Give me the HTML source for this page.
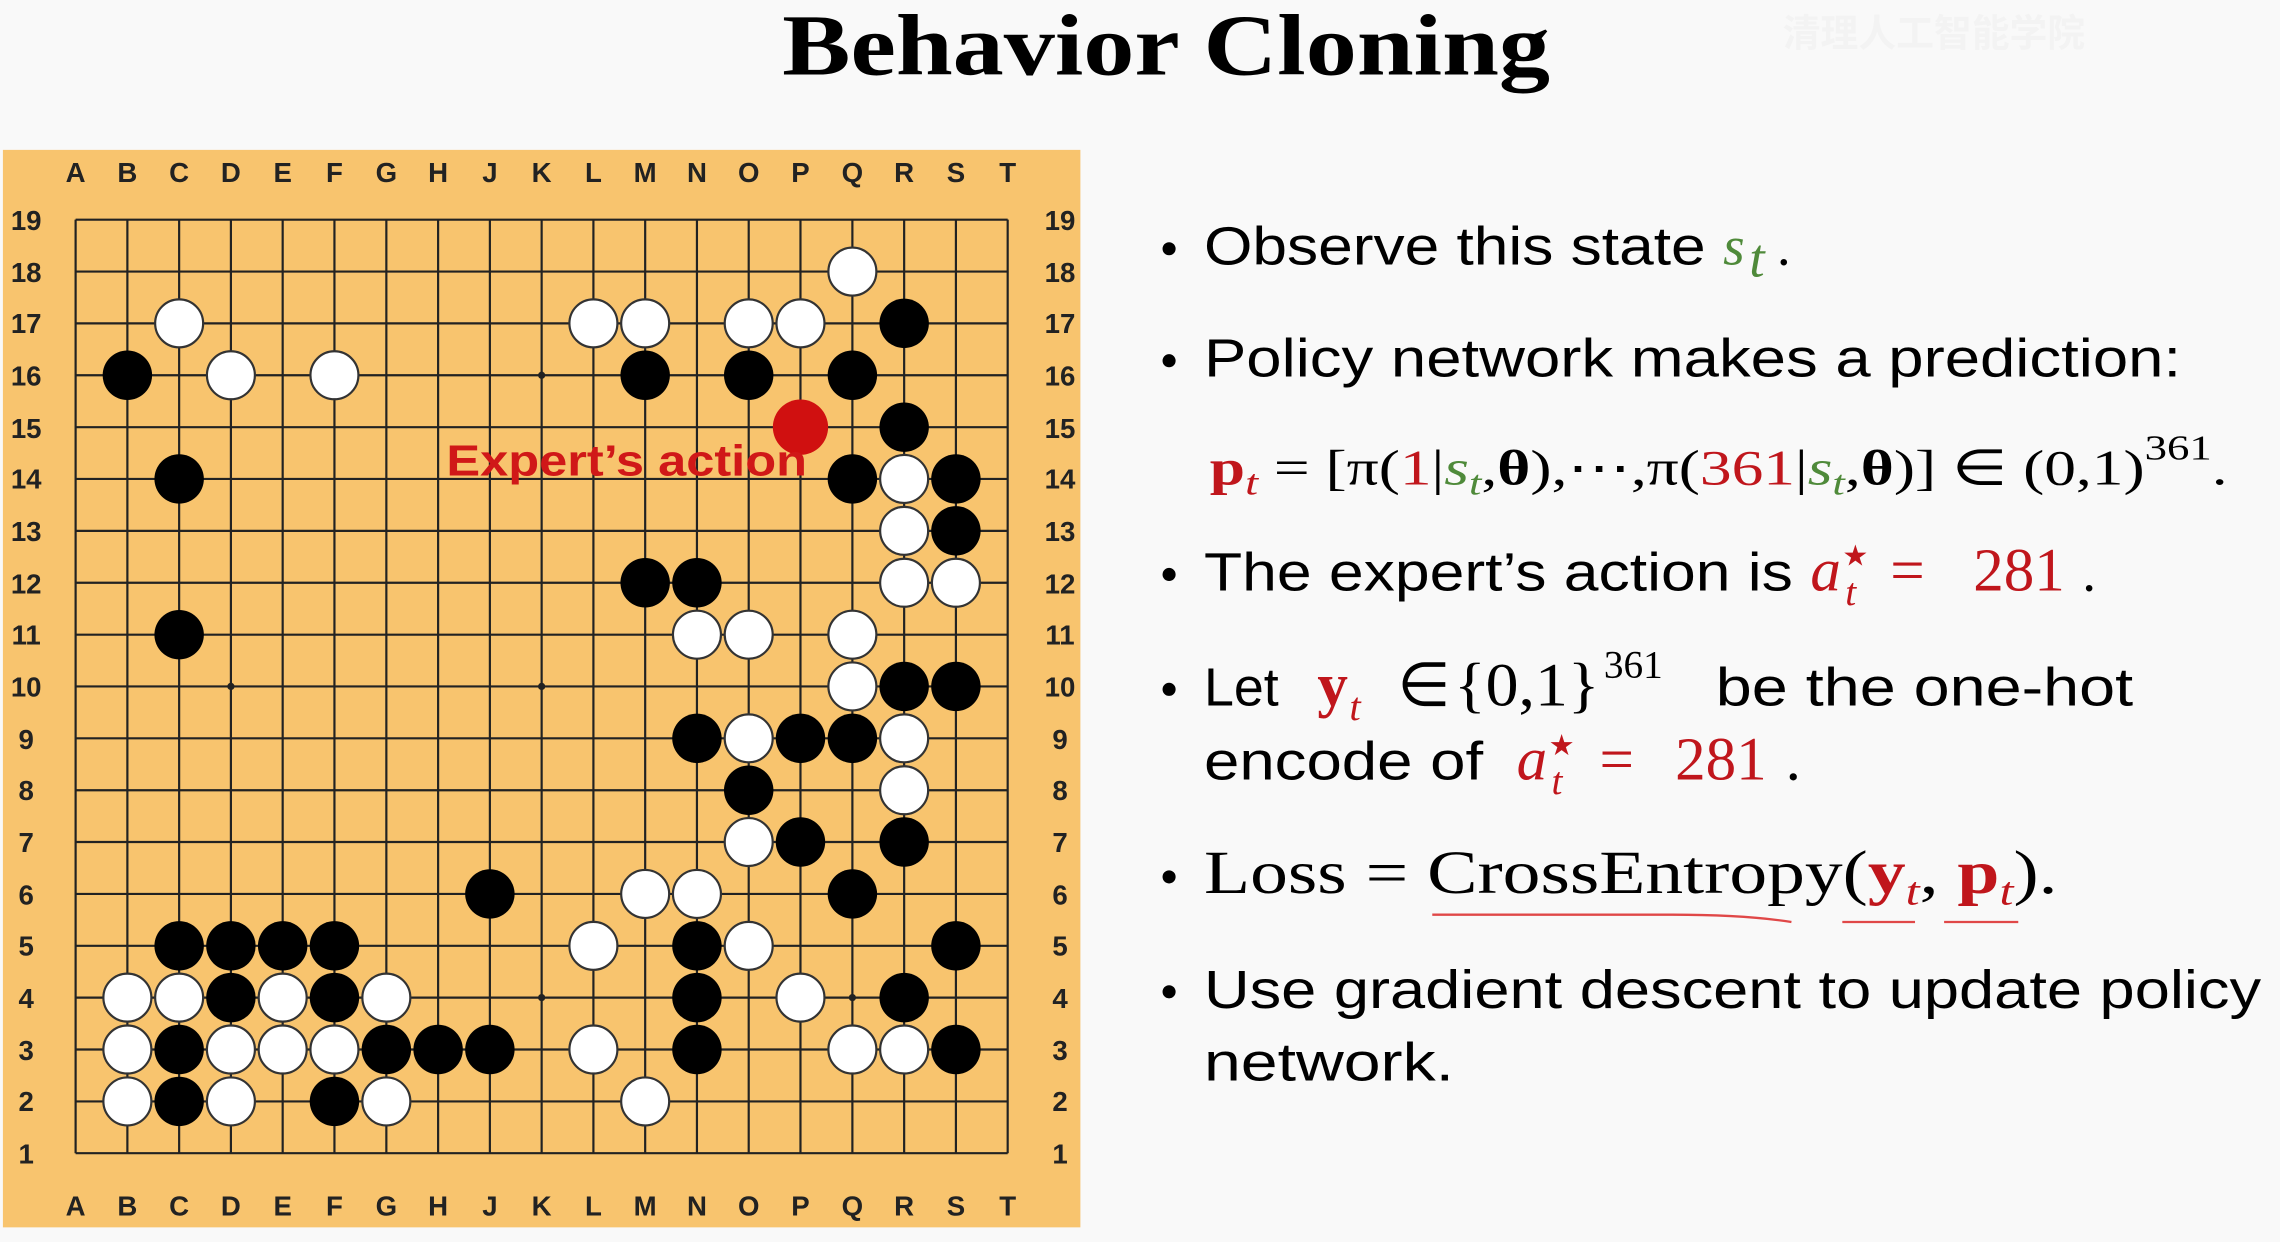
<!DOCTYPE html>
<html><head><meta charset="utf-8"><style>
html,body{margin:0;padding:0;background:#f9f9f9;width:2280px;height:1242px;overflow:hidden}
svg{display:block}
.lab{font-family:"Liberation Sans",sans-serif;font-weight:bold;font-size:19px;fill:#222;text-anchor:middle}
.t{font-family:"Liberation Sans",sans-serif;font-size:37px;fill:#000}
.m{font-family:"Liberation Serif",serif;font-size:38px;fill:#000}
.r{fill:#c0161c}.g{fill:#4f8a3a}
</style></head><body>
<svg width="2280" height="1242" viewBox="0 0 1568 854" xmlns="http://www.w3.org/2000/svg">
<rect width="1568" height="854" fill="#f9f9f9"/>
<text x="802" y="51" text-anchor="middle" font-family="Liberation Serif,serif" font-weight="bold" font-size="60" fill="#000" textLength="528" lengthAdjust="spacingAndGlyphs">Behavior Cloning</text>
<text x="1330" y="32" text-anchor="middle" font-family="Liberation Sans,Noto Sans CJK SC,sans-serif" font-weight="bold" font-size="26" fill="#f3f3f3">清理人工智能学院</text>
<rect x="2" y="103" width="741" height="741" fill="#f8c46e"/>
<g stroke="#222" stroke-width="1.5" fill="none">
<path d="M52 151V793M87.6 151V793M123.2 151V793M158.8 151V793M194.4 151V793M230 151V793M265.7 151V793M301.3 151V793M336.9 151V793M372.5 151V793M408.1 151V793M443.7 151V793M479.3 151V793M514.9 151V793M550.5 151V793M586.2 151V793M621.8 151V793M657.4 151V793M693 151V793"/>
<path d="M52 151H693M52 186.7H693M52 222.3H693M52 258H693M52 293.7H693M52 329.3H693M52 365H693M52 400.7H693M52 436.4H693M52 472H693M52 507.7H693M52 543.4H693M52 579H693M52 614.7H693M52 650.4H693M52 686H693M52 721.7H693M52 757.4H693M52 793H693"/>
</g>
<g fill="#222"><circle cx="372.5" cy="258" r="2.5"/><circle cx="158.8" cy="472" r="2.5"/><circle cx="372.5" cy="472" r="2.5"/><circle cx="372.5" cy="686" r="2.5"/><circle cx="586.2" cy="686" r="2.5"/><circle cx="158.8" cy="258" r="2.5"/><circle cx="586.2" cy="258" r="2.5"/><circle cx="158.8" cy="686" r="2.5"/><circle cx="586.2" cy="472" r="2.5"/></g>
<g class="lab">
<text x="52" y="125">A</text><text x="87.6" y="125">B</text><text x="123.2" y="125">C</text><text x="158.8" y="125">D</text><text x="194.4" y="125">E</text><text x="230" y="125">F</text><text x="265.7" y="125">G</text><text x="301.3" y="125">H</text><text x="336.9" y="125">J</text><text x="372.5" y="125">K</text><text x="408.1" y="125">L</text><text x="443.7" y="125">M</text><text x="479.3" y="125">N</text><text x="514.9" y="125">O</text><text x="550.5" y="125">P</text><text x="586.2" y="125">Q</text><text x="621.8" y="125">R</text><text x="657.4" y="125">S</text><text x="693" y="125">T</text>
<text x="52" y="836">A</text><text x="87.6" y="836">B</text><text x="123.2" y="836">C</text><text x="158.8" y="836">D</text><text x="194.4" y="836">E</text><text x="230" y="836">F</text><text x="265.7" y="836">G</text><text x="301.3" y="836">H</text><text x="336.9" y="836">J</text><text x="372.5" y="836">K</text><text x="408.1" y="836">L</text><text x="443.7" y="836">M</text><text x="479.3" y="836">N</text><text x="514.9" y="836">O</text><text x="550.5" y="836">P</text><text x="586.2" y="836">Q</text><text x="621.8" y="836">R</text><text x="657.4" y="836">S</text><text x="693" y="836">T</text>
</g>
<g class="lab">
<text x="18" y="158">19</text><text x="18" y="194">18</text><text x="18" y="229">17</text><text x="18" y="265">16</text><text x="18" y="301">15</text><text x="18" y="336">14</text><text x="18" y="372">13</text><text x="18" y="408">12</text><text x="18" y="443">11</text><text x="18" y="479">10</text><text x="18" y="515">9</text><text x="18" y="550">8</text><text x="18" y="586">7</text><text x="18" y="622">6</text><text x="18" y="657">5</text><text x="18" y="693">4</text><text x="18" y="729">3</text><text x="18" y="764">2</text><text x="18" y="800">1</text>
<text x="729" y="158">19</text><text x="729" y="194">18</text><text x="729" y="229">17</text><text x="729" y="265">16</text><text x="729" y="301">15</text><text x="729" y="336">14</text><text x="729" y="372">13</text><text x="729" y="408">12</text><text x="729" y="443">11</text><text x="729" y="479">10</text><text x="729" y="515">9</text><text x="729" y="550">8</text><text x="729" y="586">7</text><text x="729" y="622">6</text><text x="729" y="657">5</text><text x="729" y="693">4</text><text x="729" y="729">3</text><text x="729" y="764">2</text><text x="729" y="800">1</text>
</g>
<g fill="#000">
<circle cx="621.8" cy="222.3" r="17"/>
<circle cx="87.6" cy="258" r="17"/><circle cx="443.7" cy="258" r="17"/><circle cx="514.9" cy="258" r="17"/><circle cx="586.2" cy="258" r="17"/>
<circle cx="621.8" cy="293.7" r="17"/>
<circle cx="123.2" cy="329.3" r="17"/><circle cx="586.2" cy="329.3" r="17"/><circle cx="657.4" cy="329.3" r="17"/>
<circle cx="657.4" cy="365" r="17"/>
<circle cx="443.7" cy="400.7" r="17"/><circle cx="479.3" cy="400.7" r="17"/>
<circle cx="123.2" cy="436.4" r="17"/>
<circle cx="621.8" cy="472" r="17"/><circle cx="657.4" cy="472" r="17"/>
<circle cx="479.3" cy="507.7" r="17"/><circle cx="550.5" cy="507.7" r="17"/><circle cx="586.2" cy="507.7" r="17"/>
<circle cx="514.9" cy="543.4" r="17"/>
<circle cx="550.5" cy="579" r="17"/><circle cx="621.8" cy="579" r="17"/>
<circle cx="336.9" cy="614.7" r="17"/><circle cx="586.2" cy="614.7" r="17"/>
<circle cx="123.2" cy="650.4" r="17"/><circle cx="158.8" cy="650.4" r="17"/><circle cx="194.4" cy="650.4" r="17"/><circle cx="230" cy="650.4" r="17"/><circle cx="479.3" cy="650.4" r="17"/><circle cx="657.4" cy="650.4" r="17"/>
<circle cx="158.8" cy="686" r="17"/><circle cx="230" cy="686" r="17"/><circle cx="479.3" cy="686" r="17"/><circle cx="621.8" cy="686" r="17"/>
<circle cx="123.2" cy="721.7" r="17"/><circle cx="265.7" cy="721.7" r="17"/><circle cx="301.3" cy="721.7" r="17"/><circle cx="336.9" cy="721.7" r="17"/><circle cx="479.3" cy="721.7" r="17"/><circle cx="657.4" cy="721.7" r="17"/>
<circle cx="123.2" cy="757.4" r="17"/><circle cx="230" cy="757.4" r="17"/>
</g>
<g fill="#fff" stroke="#333" stroke-width="1.5">
<circle cx="586.2" cy="186.7" r="16.5"/>
<circle cx="123.2" cy="222.3" r="16.5"/><circle cx="408.1" cy="222.3" r="16.5"/><circle cx="443.7" cy="222.3" r="16.5"/><circle cx="514.9" cy="222.3" r="16.5"/><circle cx="550.5" cy="222.3" r="16.5"/>
<circle cx="158.8" cy="258" r="16.5"/><circle cx="230" cy="258" r="16.5"/>
<circle cx="621.8" cy="329.3" r="16.5"/>
<circle cx="621.8" cy="365" r="16.5"/>
<circle cx="621.8" cy="400.7" r="16.5"/><circle cx="657.4" cy="400.7" r="16.5"/>
<circle cx="479.3" cy="436.4" r="16.5"/><circle cx="514.9" cy="436.4" r="16.5"/><circle cx="586.2" cy="436.4" r="16.5"/>
<circle cx="586.2" cy="472" r="16.5"/>
<circle cx="514.9" cy="507.7" r="16.5"/><circle cx="621.8" cy="507.7" r="16.5"/>
<circle cx="621.8" cy="543.4" r="16.5"/>
<circle cx="514.9" cy="579" r="16.5"/>
<circle cx="443.7" cy="614.7" r="16.5"/><circle cx="479.3" cy="614.7" r="16.5"/>
<circle cx="408.1" cy="650.4" r="16.5"/><circle cx="514.9" cy="650.4" r="16.5"/>
<circle cx="87.6" cy="686" r="16.5"/><circle cx="123.2" cy="686" r="16.5"/><circle cx="194.4" cy="686" r="16.5"/><circle cx="265.7" cy="686" r="16.5"/><circle cx="550.5" cy="686" r="16.5"/>
<circle cx="87.6" cy="721.7" r="16.5"/><circle cx="158.8" cy="721.7" r="16.5"/><circle cx="194.4" cy="721.7" r="16.5"/><circle cx="230" cy="721.7" r="16.5"/><circle cx="408.1" cy="721.7" r="16.5"/><circle cx="586.2" cy="721.7" r="16.5"/><circle cx="621.8" cy="721.7" r="16.5"/>
<circle cx="87.6" cy="757.4" r="16.5"/><circle cx="158.8" cy="757.4" r="16.5"/><circle cx="265.7" cy="757.4" r="16.5"/><circle cx="443.7" cy="757.4" r="16.5"/>
</g>
<circle cx="550.5" cy="293.7" r="19" fill="#d01010"/>
<text x="307" y="327" font-family="Liberation Sans,sans-serif" font-weight="bold" font-size="30" fill="#d01818" textLength="248" lengthAdjust="spacingAndGlyphs">Expert’s action</text>

<g fill="#000">
<circle cx="804" cy="171" r="4.5"/><circle cx="804" cy="248" r="4.5"/><circle cx="804" cy="395" r="4.5"/><circle cx="804" cy="474" r="4.5"/><circle cx="804" cy="603" r="4.5"/><circle cx="804" cy="682" r="4.5"/>
</g>
<text class="t" x="828" y="182" textLength="345" lengthAdjust="spacingAndGlyphs">Observe this state</text>
<text class="m g" x="1185" y="182" font-style="italic">s</text><text class="m g" x="1203" y="190" font-style="italic" font-size="28">t</text><text class="m" x="1222" y="182">.</text>
<text class="t" x="828" y="259" textLength="672" lengthAdjust="spacingAndGlyphs">Policy network makes a prediction:</text>
<text x="832" y="333" font-family="Liberation Serif,serif" font-size="34" textLength="700" lengthAdjust="spacingAndGlyphs"><tspan font-weight="bold" class="r">p</tspan><tspan font-style="italic" font-size="25" class="r" dy="7">t</tspan><tspan dy="-7"> = [π(</tspan><tspan class="r">1</tspan><tspan>|</tspan><tspan font-style="italic" class="g">s</tspan><tspan font-style="italic" font-size="24" class="g" dy="7">t</tspan><tspan dy="-7">,</tspan><tspan font-weight="bold">θ</tspan><tspan>),⋯,π(</tspan><tspan class="r">361</tspan><tspan>|</tspan><tspan font-style="italic" class="g">s</tspan><tspan font-style="italic" font-size="24" class="g" dy="7">t</tspan><tspan dy="-7">,</tspan><tspan font-weight="bold">θ</tspan><tspan>)] ∈ (0,1)</tspan><tspan font-size="24" dy="-17">361</tspan><tspan dy="17">.</tspan></text>
<text class="t" x="828" y="406" textLength="405" lengthAdjust="spacingAndGlyphs">The expert’s action is</text>
<g font-family="Liberation Serif,serif" font-size="42" class="r">
<text x="1245" y="406" font-style="italic">a</text><text x="1267" y="389" font-size="20">★</text><text x="1269" y="416" font-style="italic" font-size="27">t</text>
<text x="1300" y="406">=</text><text x="1357" y="406">281</text>
</g><text class="m" x="1432" y="406" font-size="40">.</text>
<text class="t" x="828" y="485">Let</text>
<g font-family="Liberation Serif,serif" font-size="42">
<text x="906" y="485" font-weight="bold" class="r">y</text><text x="928" y="495" font-style="italic" font-size="28" class="r">t</text>
<text x="961" y="485">∈</text><text x="1000" y="485" textLength="100" lengthAdjust="spacingAndGlyphs">{0,1}</text><text x="1103" y="466" font-size="27">361</text>
<text x="1043" y="536" font-style="italic" class="r">a</text><text x="1065" y="519" font-size="20" class="r">★</text><text x="1067" y="546" font-style="italic" font-size="27" class="r">t</text>
<text x="1100" y="536" class="r">=</text><text x="1152" y="536" class="r">281</text><text x="1228" y="536">.</text>
</g>
<text class="t" x="1180" y="485" textLength="287" lengthAdjust="spacingAndGlyphs">be the one-hot</text>
<text class="t" x="828" y="536" textLength="192" lengthAdjust="spacingAndGlyphs">encode of</text>
<text x="828" y="614" font-family="Liberation Serif,serif" font-size="42" textLength="587" lengthAdjust="spacingAndGlyphs">Loss = CrossEntropy(<tspan font-weight="bold" class="r">y</tspan><tspan font-style="italic" font-size="28" class="r" dy="8">t</tspan><tspan dy="-8">, </tspan><tspan font-weight="bold" class="r">p</tspan><tspan font-style="italic" font-size="28" class="r" dy="8">t</tspan><tspan dy="-8">).</tspan></text>
<path d="M985 629 H1150 Q1200 629 1232 634" stroke="#e04848" stroke-width="1.6" fill="none"/>
<path d="M1267 634 H1317 M1337 634 H1388" stroke="#e04848" stroke-width="1.6"/>
<text class="t" x="828" y="693" textLength="727" lengthAdjust="spacingAndGlyphs">Use gradient descent to update policy</text>
<text class="t" x="828" y="743" textLength="172" lengthAdjust="spacingAndGlyphs">network.</text>
</svg>
</body></html>
